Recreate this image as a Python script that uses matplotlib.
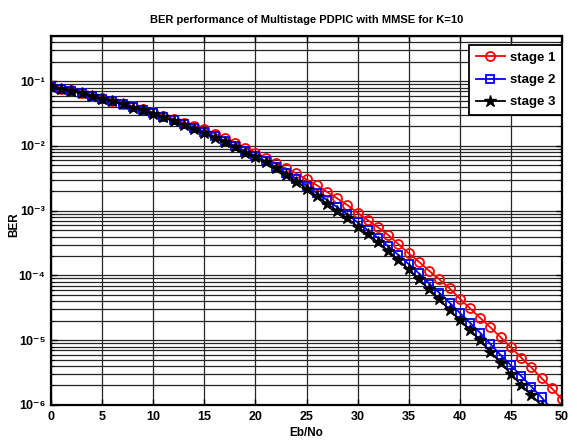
import numpy as np
import matplotlib
matplotlib.use("Agg")
import matplotlib.pyplot as plt
from matplotlib.ticker import LogLocator, NullFormatter

plt.rcParams['font.family'] = ['Liberation Sans Narrow', 'Liberation Sans', 'DejaVu Sans']
plt.rcParams['font.weight'] = 'bold'

ebno = list(range(0, 51))

# BER values
stage1 = [0.083, 0.077, 0.072, 0.066, 0.060, 0.055, 0.050, 0.045, 0.041, 0.037,
          0.033, 0.0295, 0.026, 0.0229, 0.0206, 0.0181, 0.0155, 0.0133, 0.0112, 0.0094,
          0.0079, 0.0066, 0.0054, 0.0045, 0.00377, 0.00304, 0.00248, 0.00196, 0.00155, 0.00122,
          9.3e-4, 7.16e-4, 5.53e-4, 4.21e-4, 3.04e-4, 2.19e-4, 1.63e-4, 1.18e-4, 8.7e-5, 6.3e-5,
          4.4e-5, 3.1e-5, 2.2e-5, 1.58e-5, 1.11e-5, 7.8e-6, 5.4e-6, 3.8e-6, 2.6e-6, 1.81e-6,
          1.22e-6]
stage2 = [0.082, 0.075, 0.070, 0.065, 0.059, 0.054, 0.049, 0.044, 0.040, 0.036,
          0.032, 0.028, 0.025, 0.0215, 0.0192, 0.0166, 0.0141, 0.0121, 0.0100, 0.0083,
          0.0071, 0.0058, 0.00476, 0.00386, 0.00308, 0.00242, 0.00189, 0.00146, 0.00114, 8.75e-4,
          6.6e-4, 5.0e-4, 3.8e-4, 2.84e-4, 2.07e-4, 1.5e-4, 1.08e-4, 7.5e-5, 5.4e-5, 3.8e-5,
          2.65e-5, 1.86e-5, 1.3e-5, 8.7e-6, 5.9e-6, 4.1e-6, 2.8e-6, 1.92e-6, 1.31e-6, 8.6e-7,
          5.6e-7]
stage3 = [0.082, 0.075, 0.071, 0.065, 0.059, 0.054, 0.049, 0.044, 0.039, 0.036,
          0.0317, 0.028, 0.0245, 0.0209, 0.0186, 0.0159, 0.0135, 0.0116, 0.0095, 0.0078,
          0.0068, 0.0056, 0.0045, 0.0036, 0.00282, 0.00219, 0.00168, 0.00129, 0.00100, 7.6e-4,
          5.7e-4, 4.3e-4, 3.24e-4, 2.4e-4, 1.73e-4, 1.24e-4, 8.7e-5, 6.1e-5, 4.3e-5, 2.9e-5,
          2.05e-5, 1.44e-5, 1.0e-5, 6.6e-6, 4.5e-6, 3.0e-6, 2.04e-6, 1.43e-6, 9.8e-7, 6.5e-7,
          4.3e-7]
labels = ["stage 1", "stage 2", "stage 3"]
ytick_vals = [1e-6, 1e-5, 1e-4, 1e-3, 1e-2, 1e-1]
ytick_labels = ["10\u207b\u2076", "10\u207b\u2075", "10\u207b\u2074",
                "10\u207b\u00b3", "10\u207b\u00b2", "10\u207b\u00b9"]
title = "BER performance of Multistage PDPIC with MMSE for K=10"

fig = plt.figure(figsize=(5.77, 4.48), dpi=100)
ax = fig.add_axes([0.0884, 0.096, 0.8856, 0.8237])

ax.semilogy(ebno, stage1, color="red", marker="o", markersize=6.5, markerfacecolor="none",
            markeredgewidth=1.3, linewidth=1.3, label=labels[0])
ax.semilogy(ebno, stage2, color="blue", marker="s", markersize=6, markerfacecolor="none",
            markeredgewidth=1.3, linewidth=1.3, label=labels[1])
ax.semilogy(ebno, stage3, color="black", marker="*", markersize=9,
            linewidth=1.3, label=labels[2])

ax.set_xlim(0, 50)
ax.set_ylim(1e-6, 0.5)
ax.set_xticks(range(0, 51, 5))
ax.set_yticks(ytick_vals)
ax.set_yticklabels(ytick_labels)
ax.yaxis.set_minor_locator(LogLocator(base=10, subs=np.arange(2, 10), numticks=20))
ax.yaxis.set_minor_formatter(NullFormatter())

ax.grid(True, which="major", color="0.15", linewidth=0.9, linestyle="-")
ax.grid(True, which="minor", axis="y", color="0.15", linewidth=0.9, linestyle="-")
ax.set_axisbelow(True)

ax.tick_params(which="both", direction="in", top=True, right=True, labelsize=9)
ax.tick_params(which="major", length=4, width=1, pad=4)
ax.tick_params(which="minor", length=2.5, width=0.8)
for s in ax.spines.values():
    s.set_linewidth(1.6)

ax.set_title(title, fontsize=8, fontweight="bold", pad=9)
ax.set_xlabel("Eb/No", fontsize=8.5, fontweight="bold", labelpad=3)
ax.set_ylabel("BER", fontsize=8.5, fontweight="bold")
ax.yaxis.set_label_coords(-0.06, 0.49)

leg = ax.legend(loc="upper right", bbox_to_anchor=(1.0, 0.975), borderaxespad=0,
                fontsize=9.5, frameon=True, fancybox=False, handlelength=2.2,
                handletextpad=0.4, labelspacing=0.75, borderpad=0.5)
leg.get_frame().set_edgecolor("black")
leg.get_frame().set_linewidth(1.3)
leg.get_frame().set_alpha(1)

fig.savefig("out.png", dpi=100)
